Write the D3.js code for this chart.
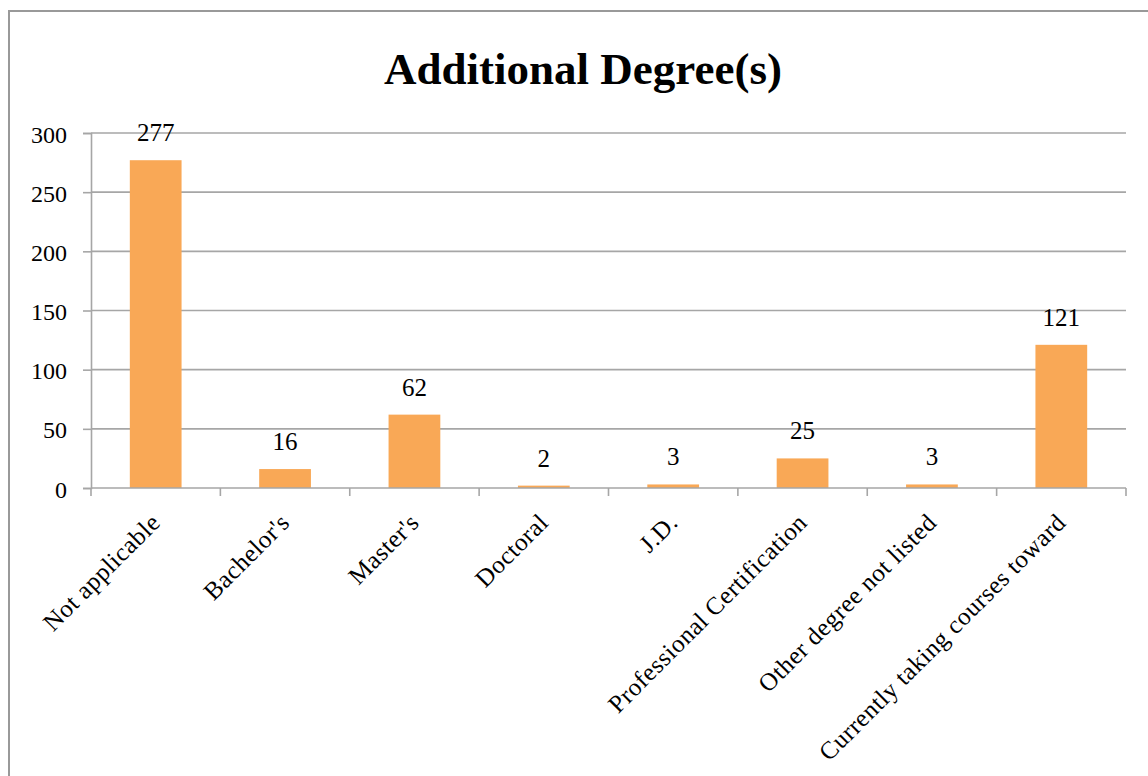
<!DOCTYPE html>
<html>
<head>
<meta charset="utf-8">
<script src="https://cdn.jsdelivr.net/npm/d3@7"></script>
<style>
  html, body { margin: 0; padding: 0; background: #fff; }
  svg { display: block; font-family: "Liberation Serif", "Times New Roman", serif; }
</style>
</head>
<body>
<svg id="chart" width="1148" height="776"></svg>
<script>
// Survey responses: additional degrees held
const categories = [
  "Not applicable",
  "Bachelor's",
  "Master's",
  "Doctoral",
  "J.D.",
  "Professional Certification",
  "Other degree not listed",
  "Currently taking courses toward"
];
const counts = [277, 16, 62, 2, 3, 25, 3, 121];
const yTicks = [0, 50, 100, 150, 200, 250, 300];
const chartTitle = "Additional Degree(s)";

const svg = d3.select("#chart");

// chart frame (runs off the right and bottom edges)
svg.append("rect")
  .attr("x", 9).attr("y", 11)
  .attr("width", 1200).attr("height", 800)
  .attr("fill", "#fff")
  .attr("stroke", "#999")
  .attr("stroke-width", 2);

const plot = { left: 91, right: 1126, top: 133, bottom: 488 };

const x = d3.scaleBand()
  .domain(categories)
  .range([plot.left, plot.right])
  .paddingInner(0.6)
  .paddingOuter(0.3);

const y = d3.scaleLinear()
  .domain([0, 300])
  .range([plot.bottom, plot.top]);

// title
svg.append("text")
  .attr("x", 583).attr("y", 84)
  .attr("text-anchor", "middle")
  .attr("font-size", 45)
  .attr("font-weight", "bold")
  .attr("fill", "#000")
  .text(chartTitle);

// horizontal gridlines
svg.append("g")
  .selectAll("line")
  .data(yTicks.filter(d => d > 0))
  .join("line")
  .attr("x1", plot.left).attr("x2", plot.right)
  .attr("y1", d => y(d)).attr("y2", d => y(d))
  .attr("stroke", "#a6a6a6")
  .attr("stroke-width", 1.6);

// bars
svg.append("g")
  .selectAll("rect")
  .data(categories)
  .join("rect")
  .attr("x", d => x(d))
  .attr("width", x.bandwidth())
  .attr("y", (d, i) => y(counts[i]))
  .attr("height", (d, i) => y(0) - y(counts[i]))
  .attr("fill", "#f9a856");

// y axis
const yAxis = svg.append("g")
  .attr("transform", `translate(${plot.left},0)`)
  .call(d3.axisLeft(y).tickValues(yTicks).tickSize(8).tickPadding(16));
yAxis.select(".domain").attr("stroke", "#a6a6a6").attr("stroke-width", 1.6);
yAxis.selectAll(".tick line").attr("stroke", "#a6a6a6").attr("stroke-width", 1.6);
yAxis.selectAll(".tick text")
  .attr("font-family", "Liberation Serif, serif")
  .attr("font-size", 24)
  .attr("fill", "#000")
  .attr("dy", "0.38em");

// x axis: baseline plus ticks at band boundaries
const step = x.step();
const bounds = categories.map(c => x(c) - x.paddingInner() * step / 2)
  .concat([plot.right]);
const xAxis = svg.append("g");
xAxis.append("line")
  .attr("x1", plot.left).attr("x2", plot.right)
  .attr("y1", y(0)).attr("y2", y(0))
  .attr("stroke", "#a6a6a6").attr("stroke-width", 1.6);
xAxis.selectAll("line.tick")
  .data(bounds)
  .join("line")
  .attr("class", "tick")
  .attr("x1", d => d).attr("x2", d => d)
  .attr("y1", y(0)).attr("y2", y(0) + 8)
  .attr("stroke", "#a6a6a6").attr("stroke-width", 1.6);

// rotated category labels
xAxis.selectAll("text")
  .data(categories)
  .join("text")
  .attr("transform", d => `translate(${x(d) + x.bandwidth() / 2 + 6},${y(0) + 36}) rotate(-45)`)
  .attr("text-anchor", "end")
  .attr("font-size", 25)
  .attr("letter-spacing", 0.5)
  .attr("fill", "#000")
  .text(d => d);

// value labels above bars
svg.append("g")
  .selectAll("text")
  .data(categories)
  .join("text")
  .attr("x", d => x(d) + x.bandwidth() / 2)
  .attr("y", (d, i) => y(counts[i]) - 19)
  .attr("text-anchor", "middle")
  .attr("font-size", 25)
  .attr("fill", "#000")
  .text((d, i) => counts[i]);
</script>
</body>
</html>
